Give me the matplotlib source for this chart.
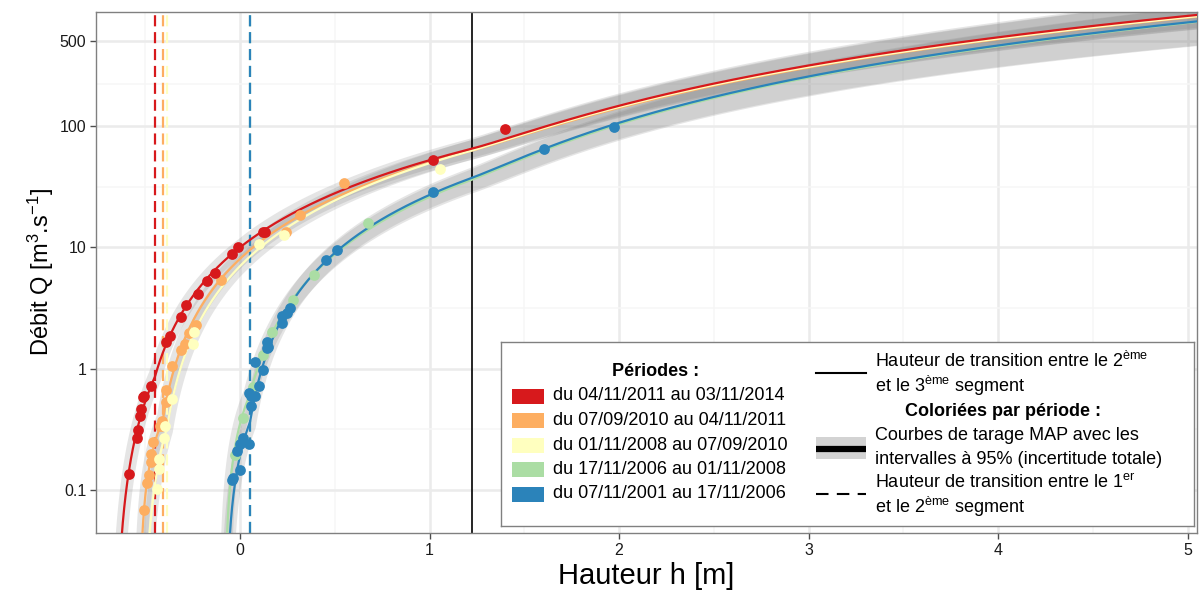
import numpy as np
import matplotlib
matplotlib.use("Agg")
import matplotlib.pyplot as plt
from matplotlib.patches import Rectangle
from matplotlib.ticker import NullFormatter, FixedLocator

plt.rcParams['font.family'] = ['Liberation Sans', 'DejaVu Sans']
plt.rcParams['mathtext.fontset'] = 'custom'
plt.rcParams['mathtext.rm'] = 'Liberation Sans'
plt.rcParams['mathtext.it'] = 'Liberation Sans:italic'
plt.rcParams['mathtext.bf'] = 'Liberation Sans:bold'

# ---------------- data ----------------
periods = ["du 04/11/2011 au 03/11/2014", "du 07/09/2010 au 04/11/2011",
           "du 01/11/2008 au 07/09/2010", "du 17/11/2006 au 01/11/2008",
           "du 07/11/2001 au 17/11/2006"]
colors = ["#D7191C", "#FDAE61", "#FFFFBF", "#ABDDA4", "#2B83BA"]

# gaugings (h [m], Q [m3/s])
h_red = [-0.586, -0.544, -0.540, -0.528, -0.520, -0.512, -0.505, -0.47, -0.39, -0.37,
         -0.31, -0.285, -0.22, -0.174, -0.13, -0.04, -0.01, 0.12, 0.13, 1.02, 1.40]
q_red = [0.135, 0.27, 0.31, 0.41, 0.47, 0.58, 0.60, 0.72, 1.66, 1.86,
         2.67, 3.35, 4.1, 5.3, 6.2, 8.8, 10.1, 13.4, 13.5, 52, 94]
h_orange = [-0.507, -0.49, -0.48, -0.47, -0.47, -0.46, -0.42, -0.41, -0.39, -0.39,
            -0.36, -0.31, -0.29, -0.27, -0.23, -0.10, 0.24, 0.317, 0.55]
q_orange = [0.068, 0.114, 0.133, 0.17, 0.20, 0.25, 0.34, 0.37, 0.53, 0.67,
            1.05, 1.43, 1.6, 1.98, 2.3, 5.4, 13.3, 18.5, 34]
h_yellow = [-0.44, -0.43, -0.43, -0.40, -0.395, -0.36, -0.25, -0.245, 0.10, 0.23, 1.056]
q_yellow = [0.102, 0.15, 0.18, 0.27, 0.34, 0.56, 1.6, 2.0, 10.6, 12.7, 44]
h_green = [-0.026, 0.016, 0.07, 0.12, 0.17, 0.28, 0.39, 0.675]
q_green = [0.195, 0.39, 0.71, 1.29, 2.0, 3.7, 5.9, 16]
h_blue = [-0.04, -0.035, 0.0, -0.016, 0.0, 0.015, 0.048, 0.057, 0.048, 0.06, 0.08, 0.10,
          0.12, 0.08, 0.14, 0.15, 0.14, 0.22, 0.22, 0.25, 0.264, 0.455, 0.51, 1.02, 1.605, 1.975]
q_blue = [0.12, 0.125, 0.146, 0.21, 0.24, 0.27, 0.24, 0.49, 0.63, 0.60, 0.60, 0.72,
          0.98, 1.13, 1.48, 1.5, 1.67, 2.38, 2.7, 2.9, 3.15, 7.9, 9.6, 28.6, 65, 98]
gaug_h = [h_red, h_orange, h_yellow, h_green, h_blue]
gaug_q = [q_red, q_orange, q_yellow, q_green, q_blue]

# rating-curve parameters (MAP), one value per period
seg1_a = [12.1, 3.3, 7.4, 5.65, 4.3]
seg1_b = [-0.66, -0.53, -0.51, -0.08, -0.075]
seg1_c = [1.7, 1.03, 1.5, 1.1, 1.2]
k1 = [-0.449, -0.407, -0.385, 0.051, 0.053]       # 1st -> 2nd segment transition
seg2_b = [-0.58, -0.48, -0.46, -0.07, -0.02]
seg2_c = [1.65, 1.62, 1.69, 1.727, 1.633]
seg3_a = [44.6, 39.8, 36.8, 34.0, 36.5]
seg3_c = [1.63, 1.67, 1.65, 1.7, 1.7]
k2 = 1.225                                          # 2nd -> 3rd segment transition
# 95% total uncertainty (log10 half-widths: base + slope*h^0.7, and shift in h)
unc_lo0 = [0.04, 0.04, 0.04, 0.04, 0.04]
unc_lo1 = [0.02, 0.02, 0.02, 0.05, 0.05]
unc_up0 = [0.04, 0.04, 0.04, 0.04, 0.04]
unc_up1 = [0.03, 0.03, 0.03, 0.025, 0.025]
unc_dh = 0.03

x_ticks = [0, 1, 2, 3, 4, 5]
y_ticks = [0.1, 1, 10, 100, 500]
y_ticklabels = ["0.1", "1", "10", "100", "500"]


def rating(h, i):
    h = np.asarray(h, dtype=float)
    s1 = seg1_a[i] * np.clip(h - seg1_b[i], 0, None) ** seg1_c[i]
    qk = seg1_a[i] * (k1[i] - seg1_b[i]) ** seg1_c[i]
    a2 = qk / (k1[i] - seg2_b[i]) ** seg2_c[i]
    s2 = a2 * np.clip(h - seg2_b[i], 0, None) ** seg2_c[i]
    s3 = seg3_a[i] * np.clip(h - k2, 0, None) ** seg3_c[i]
    return np.where(h < k1[i], s1, s2 + s3)


# ---------------- figure ----------------
fig = plt.figure(figsize=(12, 5.92), dpi=100)
W, H = 1200, 592
ax = fig.add_axes([96 / W, 1 - 533 / H, (1197 - 96) / W, (533 - 12) / H])
ax.set_yscale('log')
ax.set_xlim(-0.76, 5.05)
ax.set_ylim(0.0443, 870)

hh = np.linspace(-0.8, 5.1, 4000)
for i in range(5):
    hp = np.clip(hh, 0, None) ** 0.7
    up = rating(hh + unc_dh, i) * 10 ** (unc_up0[i] + unc_up1[i] * hp)
    lo = rating(hh - unc_dh, i) * 10 ** (-(unc_lo0[i] + unc_lo1[i] * hp))
    lo = np.clip(lo, 1e-4, None)
    up = np.clip(up, 1e-4, None)
    ax.fill_between(hh, lo, up, color='#7F7F7F', alpha=0.2, lw=0, zorder=1)

# transition heights
for i in [0, 1, 2, 3, 4]:
    ax.axvline(k1[i], color=colors[i], lw=1.6, dashes=(5, 2.6), zorder=2)
ax.axvline(k2, color='black', lw=1.2, zorder=2)

order = [3, 4, 1, 2, 0]
for i in order:
    q = rating(hh, i)
    q = np.where(q > 0, q, np.nan)
    ax.plot(hh, q, color=colors[i], lw=1.6, zorder=3)
for i in order:
    ax.scatter(gaug_h[i], gaug_q[i], s=60, color=colors[i], lw=0, zorder=4)

# axes styling
ax.set_xticks(x_ticks)
ax.set_xticklabels([str(v) for v in x_ticks])
ax.xaxis.set_minor_locator(FixedLocator([-0.5, 0.5, 1.5, 2.5, 3.5, 4.5]))
ax.yaxis.set_major_locator(FixedLocator(y_ticks))
ax.set_yticklabels(y_ticklabels)
ax.yaxis.set_minor_locator(FixedLocator([10 ** -0.5, 10 ** 0.5, 10 ** 1.5, np.sqrt(100 * 500)]))
ax.yaxis.set_minor_formatter(NullFormatter())
ax.set_axisbelow(True)
ax.grid(which='major', color='#EBEBEB', lw=1.8)
ax.grid(which='minor', color='#F6F6F6', lw=1.1)
ax.tick_params(which='minor', length=0)
ax.tick_params(which='major', length=4, width=1, color='#4D4D4D', labelsize=11.5,
               labelcolor='#1A1A1A', pad=3)
for sp in ax.spines.values():
    sp.set_color('#808080')
    sp.set_linewidth(1.0)

fig.text(646 / W, 1 - 576 / H, "Hauteur h [m]", fontsize=21, ha='center', va='center')
fig.text(41 / W, 1 - 272 / H, r"Débit Q [m$^{\mathregular{3}}$.s$^{\mathregular{-1}}$]",
         fontsize=17, rotation=90, ha='center', va='center')

# ---------------- legend ----------------
L, R, T, B = 501, 1194, 342, 526
lax = fig.add_axes([L / W, 1 - B / H, (R - L) / W, (B - T) / H])
lax.set_xlim(L, R)
lax.set_ylim(B, T)
lax.set_xticks([])
lax.set_yticks([])
for sp in lax.spines.values():
    sp.set_color('#808080')
    sp.set_linewidth(1.0)
fs = 13
lax.text(656, 372, "Périodes :", fontsize=fs, fontweight='bold', ha='center', va='center')
rows = [396, 420.5, 445, 469.5, 494]
for i in range(5):
    lax.add_patch(Rectangle((512, rows[i] - 7.5), 32, 15, color=colors[i], lw=0))
    lax.text(553, rows[i], periods[i], fontsize=fs, ha='left', va='center')

lax.plot([816, 866], [373, 373], color='black', lw=1.5)
lax.text(875, 361, r"Hauteur de transition entre le 2$^{\mathregular{ème}}$", fontsize=fs,
         ha='left', va='center')
lax.text(875, 386, r"et le 3$^{\mathregular{ème}}$ segment", fontsize=fs, ha='left', va='center')
lax.text(1003, 412, "Coloriées par période :", fontsize=fs, fontweight='bold',
         ha='center', va='center')
lax.add_patch(Rectangle((816, 437), 50, 22, color='#D3D3D3', lw=0))
lax.plot([816, 866], [448.5, 448.5], color='black', lw=4.5, solid_capstyle='butt')
lax.text(875, 436, "Courbes de tarage MAP avec les", fontsize=fs, ha='left', va='center')
lax.text(875, 459, "intervalles à 95% (incertitude totale)", fontsize=fs, ha='left', va='center')
lax.plot([816, 866], [494, 494], color='black', lw=1.5, dashes=(6, 4))
lax.text(875, 483, r"Hauteur de transition entre le 1$^{\mathregular{er}}$", fontsize=fs,
         ha='left', va='center')
lax.text(875, 507, r"et le 2$^{\mathregular{ème}}$ segment", fontsize=fs, ha='left', va='center')

fig.savefig("out.png", dpi=100)
